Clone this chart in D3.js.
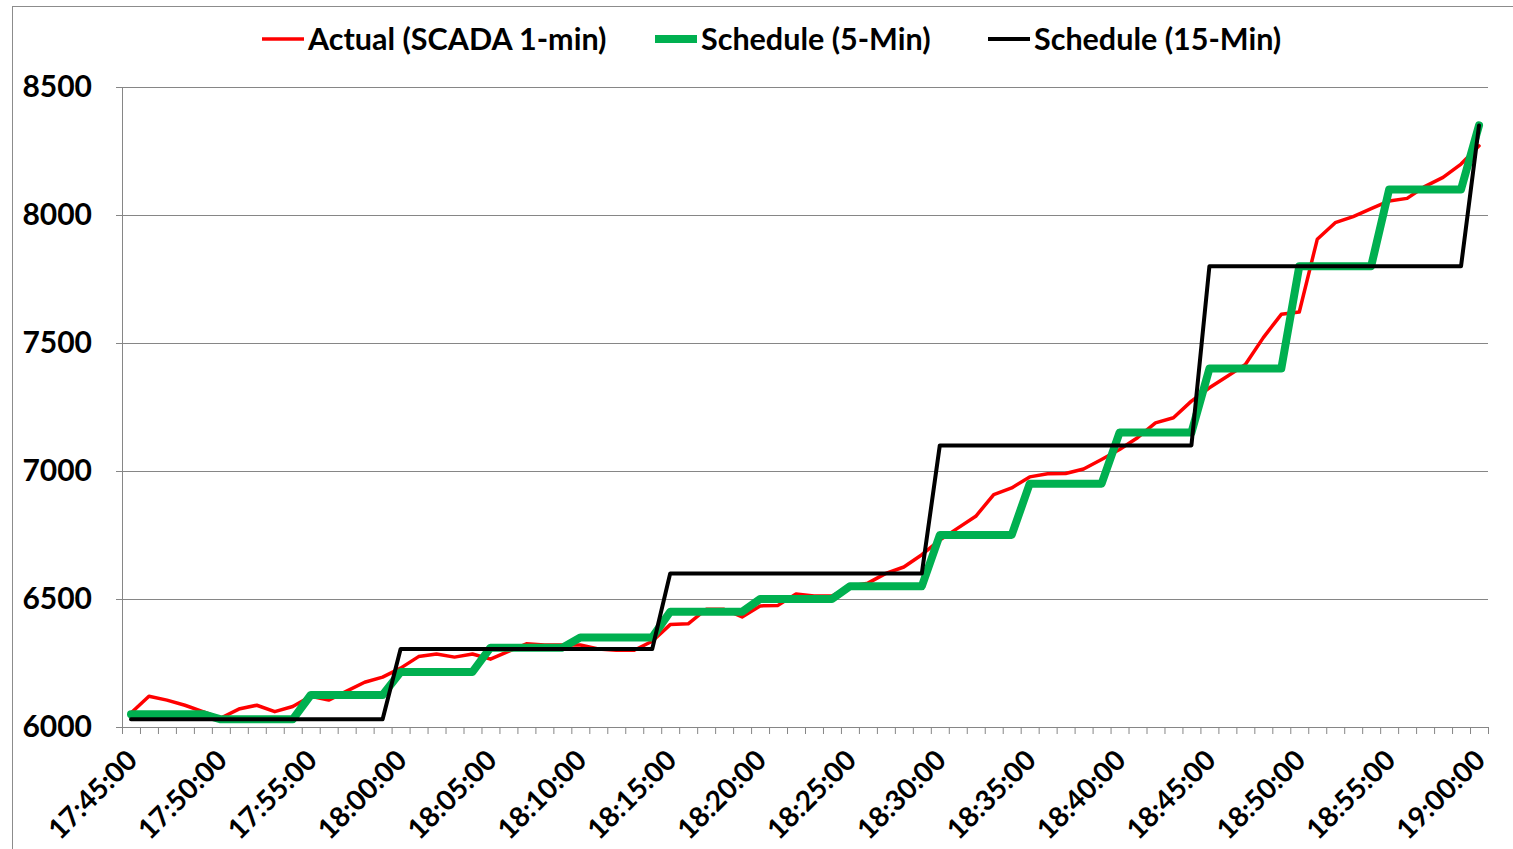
<!DOCTYPE html>
<html>
<head>
<meta charset="utf-8">
<style>
  body { margin: 0; background: #fff; }
  svg text { font-family: Lato, "Open Sans", sans-serif; font-weight: bold; fill: #000; }
</style>
<title>Actual vs Schedule</title>
</head>
<body>
<script src="https://cdn.jsdelivr.net/npm/d3@7"></script>
<script>

// one value per minute, 17:45:00 .. 19:00:00
var actual = [
  6055, 6120, 6105, 6085, 6060, 6035, 6070, 6085, 6060, 6080,
  6120, 6105, 6140, 6175, 6195, 6230, 6275, 6285, 6273, 6285,
  6265, 6295, 6325, 6320, 6320, 6320, 6305, 6300, 6300, 6335,
  6400, 6403, 6460, 6460, 6430, 6473, 6475, 6520, 6512, 6512,
  6550, 6562, 6600, 6625, 6673, 6730, 6777, 6823, 6908, 6934,
  6977, 6989, 6990, 7008, 7045, 7084, 7130, 7188, 7208, 7273,
  7325, 7370, 7416, 7521, 7612, 7621, 7905, 7970, 7994, 8025,
  8055, 8065, 8112, 8147, 8199, 8270
];
var sched5 = [
  6050, 6050, 6050, 6050, 6050, 6030, 6030, 6030, 6030, 6030,
  6125, 6125, 6125, 6125, 6125, 6215, 6215, 6215, 6215, 6215,
  6310, 6310, 6310, 6310, 6310, 6350, 6350, 6350, 6350, 6350,
  6450, 6450, 6450, 6450, 6450, 6500, 6500, 6500, 6500, 6500,
  6550, 6550, 6550, 6550, 6550, 6750, 6750, 6750, 6750, 6750,
  6950, 6950, 6950, 6950, 6950, 7150, 7150, 7150, 7150, 7150,
  7400, 7400, 7400, 7400, 7400, 7800, 7800, 7800, 7800, 7800,
  8100, 8100, 8100, 8100, 8100, 8350
];
var sched15 = [
  6030, 6030, 6030, 6030, 6030, 6030, 6030, 6030, 6030, 6030,
  6030, 6030, 6030, 6030, 6030, 6305, 6305, 6305, 6305, 6305,
  6305, 6305, 6305, 6305, 6305, 6305, 6305, 6305, 6305, 6305,
  6600, 6600, 6600, 6600, 6600, 6600, 6600, 6600, 6600, 6600,
  6600, 6600, 6600, 6600, 6600, 7100, 7100, 7100, 7100, 7100,
  7100, 7100, 7100, 7100, 7100, 7100, 7100, 7100, 7100, 7100,
  7800, 7800, 7800, 7800, 7800, 7800, 7800, 7800, 7800, 7800,
  7800, 7800, 7800, 7800, 7800, 8350
];
var timeLabels = ["17:45:00", "17:50:00", "17:55:00", "18:00:00", "18:05:00", "18:10:00",
  "18:15:00", "18:20:00", "18:25:00", "18:30:00", "18:35:00", "18:40:00",
  "18:45:00", "18:50:00", "18:55:00", "19:00:00"];
var yTicks = [6000, 6500, 7000, 7500, 8000, 8500];

var series = [
  {name: "Actual (SCADA 1-min)", values: actual,  color: "#ff0000", width: 3.5},
  {name: "Schedule (5-Min)",     values: sched5,  color: "#00b050", width: 8},
  {name: "Schedule (15-Min)",    values: sched15, color: "#000000", width: 4}
];

var width = 1513, height = 849;
var plotLeft = 122, plotRight = 1488, plotTop = 87, plotBottom = 727;

var svg = d3.select("body").append("svg")
    .attr("width", width)
    .attr("height", height);

// chart frame
svg.append("rect")
    .attr("x", 12.5).attr("y", 6.5)
    .attr("width", 1520).attr("height", 900)
    .attr("fill", "#fff")
    .attr("stroke", "#8c8c8c");

var n = actual.length;
// category edges: 0..n, point i sits in the middle of its slot
var x = d3.scaleLinear().domain([0, n]).range([plotLeft, plotRight]);
var y = d3.scaleLinear().domain([6000, 8500]).range([plotBottom, plotTop]);

// gridlines
svg.append("g").selectAll("line")
  .data(yTicks.filter(function(d) { return d > 6000; }))
  .enter().append("line")
    .attr("x1", plotLeft).attr("x2", plotRight)
    .attr("y1", function(d) { return y(d) + 0.5; })
    .attr("y2", function(d) { return y(d) + 0.5; })
    .attr("stroke", "#868686")
    .attr("stroke-width", 1);

// y axis
var yAxis = svg.append("g")
    .attr("transform", "translate(" + plotLeft + ",0)")
    .call(d3.axisLeft(y).tickValues(yTicks).tickSize(6).tickFormat(d3.format("d")));
yAxis.select(".domain").attr("stroke", "#868686");
yAxis.selectAll(".tick line").attr("stroke", "#868686");
yAxis.selectAll(".tick text")
    .attr("x", -30)
    .attr("font-size", 30);

// x axis: a tick at every minute boundary
var xAxis = svg.append("g")
    .attr("transform", "translate(0," + plotBottom + ")")
    .call(d3.axisBottom(x).tickValues(d3.range(n + 1)).tickSize(7).tickFormat(""));
xAxis.select(".domain").attr("stroke", "#868686");
xAxis.selectAll(".tick line").attr("stroke", "#868686");

svg.append("g").selectAll("text")
  .data(timeLabels)
  .enter().append("text")
    .attr("text-anchor", "end")
    .attr("font-size", 28)
    .attr("transform", function(d, i) {
      return "translate(" + (x(i * 5 + 0.5) + 8) + "," + (plotBottom + 35) + ") rotate(-45)";
    })
    .text(function(d) { return d; });

// lines
var line = d3.line()
    .x(function(d, i) { return x(i + 0.5); })
    .y(function(d) { return y(d); });

svg.append("g").selectAll("path")
  .data(series)
  .enter().append("path")
    .attr("d", function(d) { return line(d.values); })
    .attr("fill", "none")
    .attr("stroke", function(d) { return d.color; })
    .attr("stroke-width", function(d) { return d.width; })
    .attr("stroke-linejoin", "round")
    .attr("stroke-linecap", "round");

// legend
var legendX = [262, 655, 988];
var legend = svg.append("g").selectAll("g")
  .data(series)
  .enter().append("g")
    .attr("transform", function(d, i) { return "translate(" + legendX[i] + ",39)"; });
legend.append("line")
    .attr("x1", 0).attr("x2", 42)
    .attr("stroke", function(d) { return d.color; })
    .attr("stroke-width", function(d) { return d.width; });
legend.append("text")
    .attr("x", 46)
    .attr("dy", "0.35em")
    .attr("font-size", 30.5)
    .text(function(d) { return d.name; });

</script>
</body>
</html>
